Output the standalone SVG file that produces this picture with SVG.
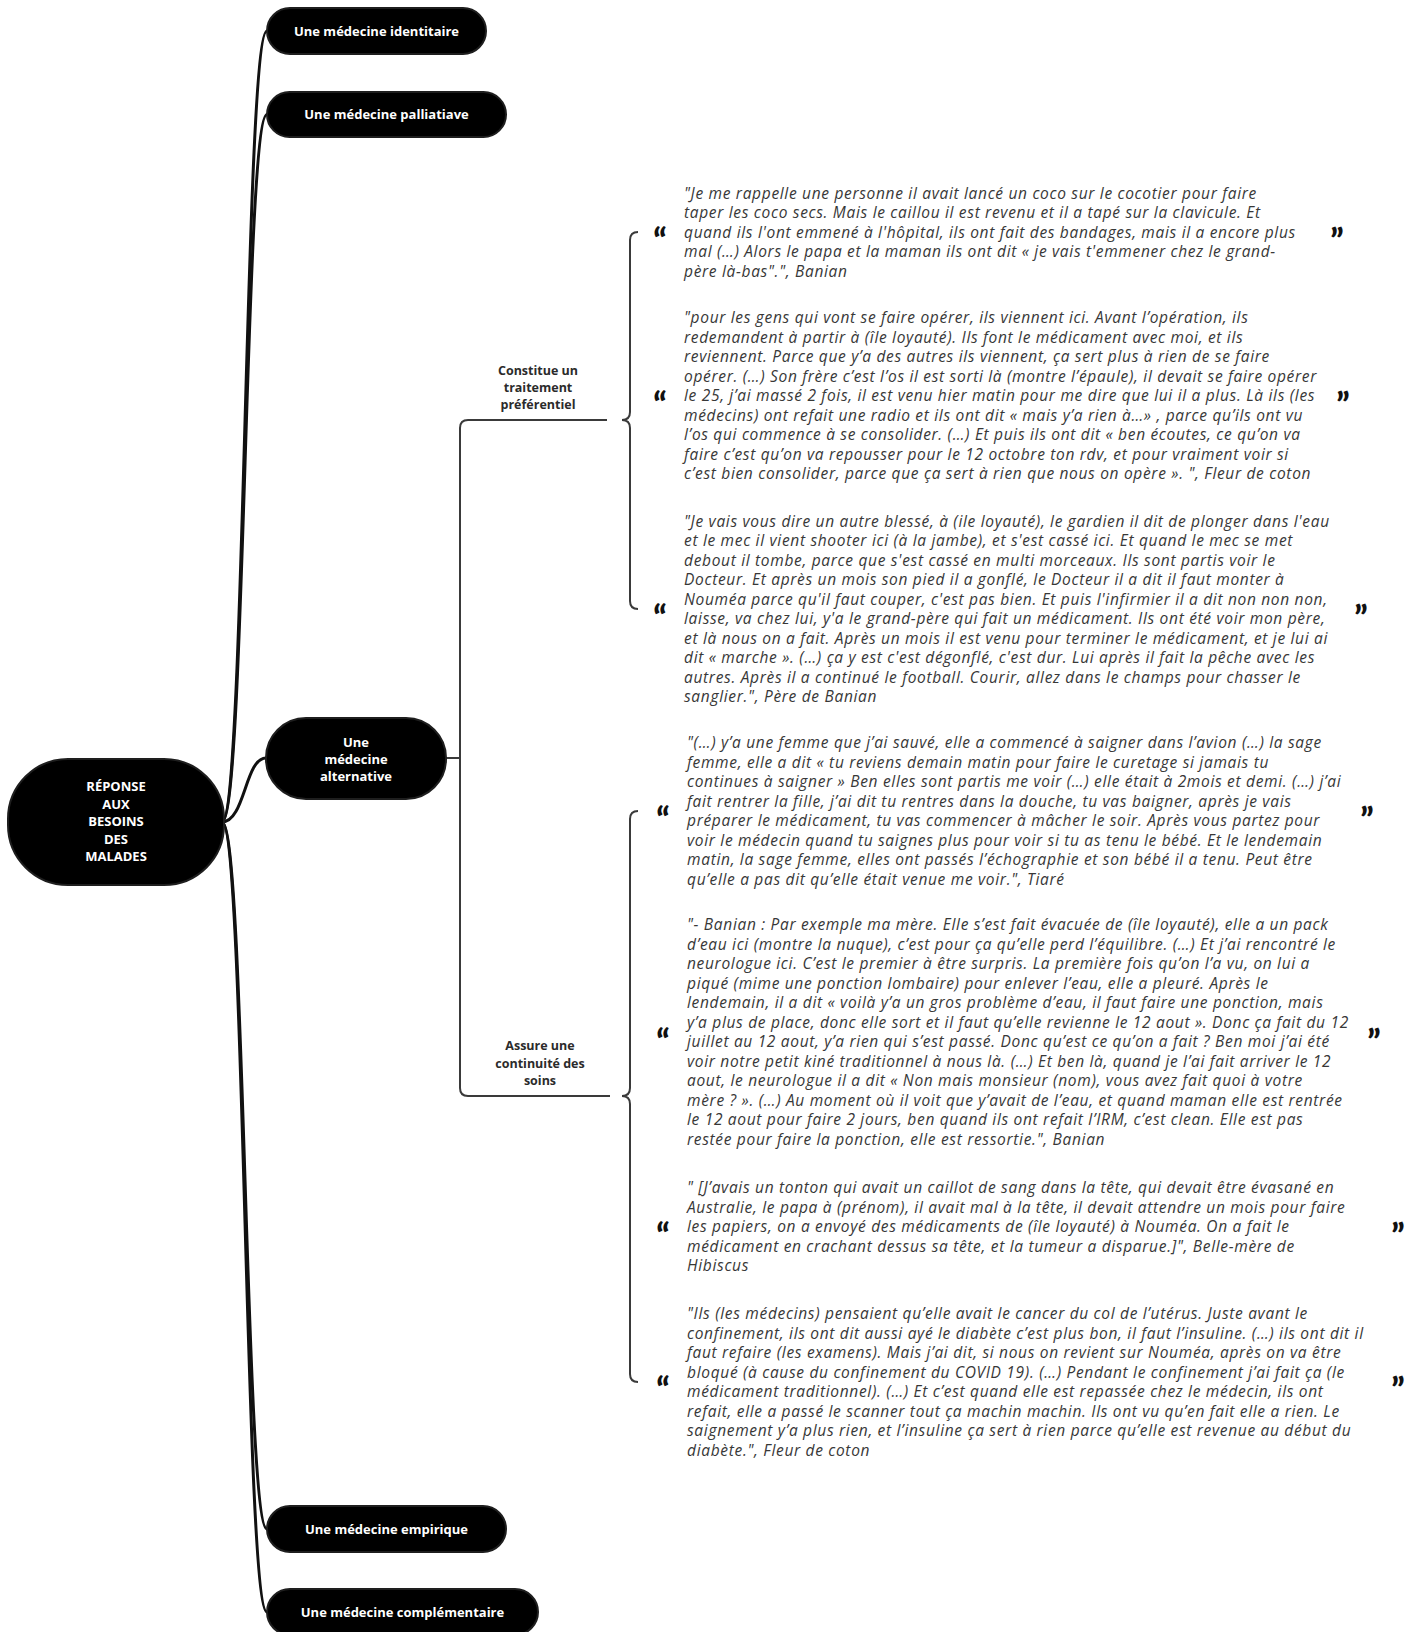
<svg xmlns="http://www.w3.org/2000/svg" width="1418" height="1632" viewBox="0 0 1418 1632">
<style>
.bg{fill:#ffffff}
.node{fill:#000000;stroke:#1e1e1e;stroke-width:2}
.nt{font-family:"Open Sans",Lato,sans-serif;font-weight:700;font-size:13px;fill:#ffffff;text-anchor:middle}
.sub{font-family:"Open Sans",Lato,sans-serif;font-weight:700;font-size:12.5px;fill:#2b2b2b;text-anchor:middle}
.q{font-family:"Open Sans",Lato,sans-serif;font-style:italic;font-size:15.5px;letter-spacing:0.68px;fill:#383838}
.qm{font-family:Lato,"Open Sans",sans-serif;font-weight:900;font-size:34px;fill:#111111;text-anchor:middle}
.main{fill:none;stroke:#111111;stroke-width:3;stroke-linecap:round}
.thin{fill:none;stroke:#3a3a3a;stroke-width:2}
</style>
<rect class="bg" x="0" y="0" width="1418" height="1632"/>

<g id="connectors">
  <path class="main" d="M222,822 C245,822 245,31 267,31"/>
  <path class="main" d="M222,822 C245,822 245,114.5 267,114.5"/>
  <path class="main" d="M222,822 C245,822 245,758 266,758"/>
  <path class="main" d="M222,822 C245,822 245,1529 267,1529"/>
  <path class="main" d="M222,822 C245,822 245,1612 267,1612"/>
  <path class="thin" d="M446,758 L460,758"/>
  <path class="thin" d="M607,420 L468,420 Q460,420 460,428 L460,1088 Q460,1096 468,1096 L610,1096"/>
  <path class="thin" d="M638,232 Q630,232 630,240 L630,412 Q630,420 622,420 Q630,420 630,428 L630,601 Q630,609 638,609"/>
  <path class="thin" d="M638,811 Q630,811 630,819 L630,1088 Q630,1096 622,1096 Q630,1096 630,1104 L630,1374 Q630,1382 638,1382"/>
</g>

<g id="root">
  <rect class="node" x="8" y="759" width="216" height="126" rx="60" ry="60"/>
  <text class="nt" x="116" y="791">RÉPONSE</text>
  <text class="nt" x="116" y="808.5">AUX</text>
  <text class="nt" x="116" y="826">BESOINS</text>
  <text class="nt" x="116" y="843.5">DES</text>
  <text class="nt" x="116" y="861">MALADES</text>
</g>

<g id="n-identitaire">
  <rect class="node" x="267" y="8" width="219" height="46" rx="23" ry="23"/>
  <text class="nt" x="376.5" y="36">Une médecine identitaire</text>
</g>

<g id="n-palliatiave">
  <rect class="node" x="267" y="92" width="239" height="45" rx="22.5" ry="22.5"/>
  <text class="nt" x="386.5" y="119">Une médecine palliatiave</text>
</g>

<g id="n-alternative">
  <rect class="node" x="266" y="718" width="180" height="81" rx="40" ry="40"/>
  <text class="nt" x="356" y="746.5">Une</text>
  <text class="nt" x="356" y="763.5">médecine</text>
  <text class="nt" x="356" y="780.5">alternative</text>
</g>

<g id="n-empirique">
  <rect class="node" x="267" y="1506" width="239" height="46" rx="23" ry="23"/>
  <text class="nt" x="386.5" y="1534">Une médecine empirique</text>
</g>

<g id="n-complementaire">
  <rect class="node" x="267" y="1589" width="271" height="46" rx="23" ry="23"/>
  <text class="nt" x="402.5" y="1617">Une médecine complémentaire</text>
</g>

<g id="n-traitement">
  <text class="sub" x="538" y="374.5">Constitue un</text>
  <text class="sub" x="538" y="391.5">traitement</text>
  <text class="sub" x="538" y="408.5">préférentiel</text>
</g>

<g id="n-continuite">
  <text class="sub" x="540" y="1049.5">Assure une</text>
  <text class="sub" x="540" y="1067.5">continuité des</text>
  <text class="sub" x="540" y="1084.5">soins</text>
</g>

<g id="quote-1">
  <text class="qm" x="660" y="253">“</text>
  <text class="qm" x="1337" y="253">”</text>
  <text class="q" x="684" y="198.5">"Je me rappelle une personne il avait lancé un coco sur le cocotier pour faire</text>
  <text class="q" x="684" y="218">taper les coco secs. Mais le caillou il est revenu et il a tapé sur la clavicule. Et</text>
  <text class="q" x="684" y="237.5">quand ils l'ont emmené à l'hôpital, ils ont fait des bandages, mais il a encore plus</text>
  <text class="q" x="684" y="257">mal (…) Alors le papa et la maman ils ont dit « je vais t'emmener chez le grand-</text>
  <text class="q" x="684" y="276.5">père là-bas".", Banian</text>
</g>

<g id="quote-2">
  <text class="qm" x="660" y="417">“</text>
  <text class="qm" x="1343" y="417">”</text>
  <text class="q" x="684" y="323.3">"pour les gens qui vont se faire opérer, ils viennent ici. Avant l’opération, ils</text>
  <text class="q" x="684" y="342.8">redemandent à partir à (île loyauté). Ils font le médicament avec moi, et ils</text>
  <text class="q" x="684" y="362.3">reviennent. Parce que y’a des autres ils viennent, ça sert plus à rien de se faire</text>
  <text class="q" x="684" y="381.8">opérer. (…) Son frère c’est l’os il est sorti là (montre l’épaule), il devait se faire opérer</text>
  <text class="q" x="684" y="401.3">le 25, j’ai massé 2 fois, il est venu hier matin pour me dire que lui il a plus. Là ils (les</text>
  <text class="q" x="684" y="420.8">médecins) ont refait une radio et ils ont dit « mais y’a rien à…» , parce qu’ils ont vu</text>
  <text class="q" x="684" y="440.3">l’os qui commence à se consolider. (…) Et puis ils ont dit « ben écoutes, ce qu’on va</text>
  <text class="q" x="684" y="459.8">faire c’est qu’on va repousser pour le 12 octobre ton rdv, et pour vraiment voir si</text>
  <text class="q" x="684" y="479.3">c’est bien consolider, parce que ça sert à rien que nous on opère ». ", Fleur de coton</text>
</g>

<g id="quote-3">
  <text class="qm" x="660" y="629.5">“</text>
  <text class="qm" x="1361" y="629.5">”</text>
  <text class="q" x="684" y="526.5">"Je vais vous dire un autre blessé, à (ile loyauté), le gardien il dit de plonger dans l'eau</text>
  <text class="q" x="684" y="546">et le mec il vient shooter ici (à la jambe), et s'est cassé ici. Et quand le mec se met</text>
  <text class="q" x="684" y="565.5">debout il tombe, parce que s'est cassé en multi morceaux. Ils sont partis voir le</text>
  <text class="q" x="684" y="585">Docteur. Et après un mois son pied il a gonflé, le Docteur il a dit il faut monter à</text>
  <text class="q" x="684" y="604.5">Nouméa parce qu'il faut couper, c'est pas bien. Et puis l'infirmier il a dit non non non,</text>
  <text class="q" x="684" y="624">laisse, va chez lui, y'a le grand-père qui fait un médicament. Ils ont été voir mon père,</text>
  <text class="q" x="684" y="643.5">et là nous on a fait. Après un mois il est venu pour terminer le médicament, et je lui ai</text>
  <text class="q" x="684" y="663">dit « marche ». (…) ça y est c'est dégonflé, c'est dur. Lui après il fait la pêche avec les</text>
  <text class="q" x="684" y="682.5">autres. Après il a continué le football. Courir, allez dans le champs pour chasser le</text>
  <text class="q" x="684" y="702">sanglier.", Père de Banian</text>
</g>

<g id="quote-4">
  <text class="qm" x="663" y="832">“</text>
  <text class="qm" x="1367" y="832">”</text>
  <text class="q" x="687" y="748">"(…) y’a une femme que j’ai sauvé, elle a commencé à saigner dans l’avion (…) la sage</text>
  <text class="q" x="687" y="767.5">femme, elle a dit « tu reviens demain matin pour faire le curetage si jamais tu</text>
  <text class="q" x="687" y="787">continues à saigner » Ben elles sont partis me voir (…) elle était à 2mois et demi. (…) j’ai</text>
  <text class="q" x="687" y="806.5">fait rentrer la fille, j’ai dit tu rentres dans la douche, tu vas baigner, après je vais</text>
  <text class="q" x="687" y="826">préparer le médicament, tu vas commencer à mâcher le soir. Après vous partez pour</text>
  <text class="q" x="687" y="845.5">voir le médecin quand tu saignes plus pour voir si tu as tenu le bébé. Et le lendemain</text>
  <text class="q" x="687" y="865">matin, la sage femme, elles ont passés l’échographie et son bébé il a tenu. Peut être</text>
  <text class="q" x="687" y="884.5">qu’elle a pas dit qu’elle était venue me voir.", Tiaré</text>
</g>

<g id="quote-5">
  <text class="qm" x="663" y="1053.5">“</text>
  <text class="qm" x="1374" y="1053.5">”</text>
  <text class="q" x="687" y="930">"- Banian : Par exemple ma mère. Elle s’est fait évacuée de (île loyauté), elle a un pack</text>
  <text class="q" x="687" y="949.5">d’eau ici (montre la nuque), c’est pour ça qu’elle perd l’équilibre. (…) Et j’ai rencontré le</text>
  <text class="q" x="687" y="969">neurologue ici. C’est le premier à être surpris. La première fois qu’on l’a vu, on lui a</text>
  <text class="q" x="687" y="988.5">piqué (mime une ponction lombaire) pour enlever l’eau, elle a pleuré. Après le</text>
  <text class="q" x="687" y="1008">lendemain, il a dit « voilà y’a un gros problème d’eau, il faut faire une ponction, mais</text>
  <text class="q" x="687" y="1027.5">y’a plus de place, donc elle sort et il faut qu’elle revienne le 12 aout ». Donc ça fait du 12</text>
  <text class="q" x="687" y="1047">juillet au 12 aout, y’a rien qui s’est passé. Donc qu’est ce qu’on a fait ? Ben moi j’ai été</text>
  <text class="q" x="687" y="1066.5">voir notre petit kiné traditionnel à nous là. (…) Et ben là, quand je l’ai fait arriver le 12</text>
  <text class="q" x="687" y="1086">aout, le neurologue il a dit « Non mais monsieur (nom), vous avez fait quoi à votre</text>
  <text class="q" x="687" y="1105.5">mère ? ». (…) Au moment où il voit que y’avait de l’eau, et quand maman elle est rentrée</text>
  <text class="q" x="687" y="1125">le 12 aout pour faire 2 jours, ben quand ils ont refait l’IRM, c’est clean. Elle est pas</text>
  <text class="q" x="687" y="1144.5">restée pour faire la ponction, elle est ressortie.", Banian</text>
</g>

<g id="quote-6">
  <text class="qm" x="663" y="1248">“</text>
  <text class="qm" x="1398" y="1248">”</text>
  <text class="q" x="687" y="1193.3">" [J’avais un tonton qui avait un caillot de sang dans la tête, qui devait être évasané en</text>
  <text class="q" x="687" y="1212.8">Australie, le papa à (prénom), il avait mal à la tête, il devait attendre un mois pour faire</text>
  <text class="q" x="687" y="1232.3">les papiers, on a envoyé des médicaments de (île loyauté) à Nouméa. On a fait le</text>
  <text class="q" x="687" y="1251.8">médicament en crachant dessus sa tête, et la tumeur a disparue.]", Belle-mère de</text>
  <text class="q" x="687" y="1271.3">Hibiscus</text>
</g>

<g id="quote-7">
  <text class="qm" x="663" y="1402">“</text>
  <text class="qm" x="1398" y="1402">”</text>
  <text class="q" x="687" y="1319">"Ils (les médecins) pensaient qu’elle avait le cancer du col de l’utérus. Juste avant le</text>
  <text class="q" x="687" y="1338.5">confinement, ils ont dit aussi ayé le diabète c’est plus bon, il faut l’insuline. (…) ils ont dit il</text>
  <text class="q" x="687" y="1358">faut refaire (les examens). Mais j’ai dit, si nous on revient sur Nouméa, après on va être</text>
  <text class="q" x="687" y="1377.5">bloqué (à cause du confinement du COVID 19). (…) Pendant le confinement j’ai fait ça (le</text>
  <text class="q" x="687" y="1397">médicament traditionnel). (…) Et c’est quand elle est repassée chez le médecin, ils ont</text>
  <text class="q" x="687" y="1416.5">refait, elle a passé le scanner tout ça machin machin. Ils ont vu qu’en fait elle a rien. Le</text>
  <text class="q" x="687" y="1436">saignement y’a plus rien, et l’insuline ça sert à rien parce qu’elle est revenue au début du</text>
  <text class="q" x="687" y="1455.5">diabète.", Fleur de coton</text>
</g>
</svg>
